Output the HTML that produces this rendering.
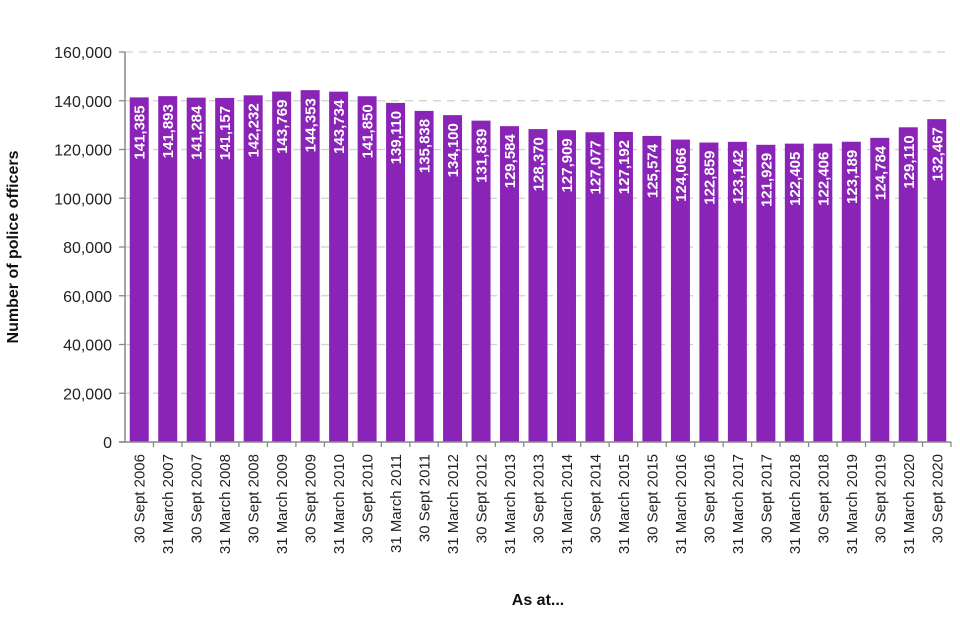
<!DOCTYPE html>
<html><head><meta charset="utf-8"><style>
body{margin:0;background:#fff}
svg{display:block;font-family:"Liberation Sans",sans-serif}
</style></head><body>
<svg id="chart" width="960" height="640"></svg>
<script>
const categories=["30 Sept 2006","31 March 2007","30 Sept 2007","31 March 2008","30 Sept 2008","31 March 2009","30 Sept 2009","31 March 2010","30 Sept 2010","31 March 2011","30 Sept 2011","31 March 2012","30 Sept 2012","31 March 2013","30 Sept 2013","31 March 2014","30 Sept 2014","31 March 2015","30 Sept 2015","31 March 2016","30 Sept 2016","31 March 2017","30 Sept 2017","31 March 2018","30 Sept 2018","31 March 2019","30 Sept 2019","31 March 2020","30 Sept 2020"];
const values=[141385,141893,141284,141157,142232,143769,144353,143734,141850,139110,135838,134100,131839,129584,128370,127909,127077,127192,125574,124066,122859,123142,121929,122405,122406,123189,124784,129110,132467];
const yTicks=[0,20000,40000,60000,80000,100000,120000,140000,160000];
const NS="http://www.w3.org/2000/svg";
const svg=document.getElementById('chart');
const L=125,R=951,B=442,T=52,YMAX=160000;
const slot=(R-L)/categories.length;
const y=v=>B-(v/YMAX)*(B-T);
const x=i=>L+slot*i+slot/2;
function mk(tag,attrs,txt){const e=document.createElementNS(NS,tag);for(const k in attrs)e.setAttribute(k,attrs[k]);if(txt!=null)e.textContent=txt;svg.appendChild(e);return e;}
const fmt=v=>v.toLocaleString('en-GB');
yTicks.forEach(t=>{
  if(t>0){const g=mk('line',{x1:L,x2:R,y1:y(t),y2:y(t),stroke:'#d0d0d0','stroke-dasharray':'8,6','stroke-width':1.3});
  
  }
  const tk=mk('line',{x1:L-6,x2:L,y1:y(t),y2:y(t),stroke:'#888','stroke-width':1.3});
  
  
  const lb=mk('text',{x:L-13,y:y(t)+6,'text-anchor':'end','font-size':16,fill:'#222'},fmt(t));
  
  
});
values.forEach((v,i)=>{
  const bw=19;
  const r=mk('rect',{x:x(i)-bw/2,y:y(v),width:bw,height:B-y(v),fill:'#8a24b6'});
  
  
  const vt=mk('text',{transform:`translate(${x(i)+5.5},${y(v)+8}) rotate(-90)`,'text-anchor':'end','font-size':15,'font-weight':'bold',fill:'#fff'},fmt(v));
  
  
  const ct=mk('text',{transform:`translate(${x(i)+5.5},${B+12}) rotate(-90)`,'text-anchor':'end','font-size':15,fill:'#222'},categories[i]);
  
  
  const xt=mk('line',{x1:L+slot*(i+1),x2:L+slot*(i+1),y1:B,y2:B+5,stroke:'#888','stroke-width':1.3});
  
  
});
const ax=mk('line',{x1:L,x2:L,y1:T,y2:B,stroke:'#888','stroke-width':1.5});


const bx=mk('line',{x1:L-6,x2:R,y1:B,y2:B,stroke:'#888','stroke-width':1.5});


const yt=mk('text',{transform:'translate(18,247) rotate(-90)','text-anchor':'middle','font-size':16,'font-weight':'bold',fill:'#111'},'Number of police officers');


const xtt=mk('text',{x:538,y:605,'text-anchor':'middle','font-size':16,'font-weight':'bold',fill:'#111'},'As at...');


</script>
</body></html>
